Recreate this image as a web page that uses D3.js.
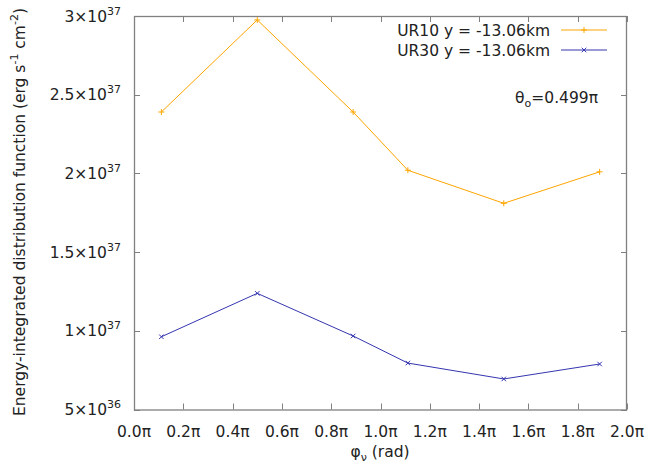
<!DOCTYPE html>
<html>
<head>
<meta charset="utf-8">
<script src="https://cdn.jsdelivr.net/npm/d3@7"></script>
<style>
  html, body { margin: 0; padding: 0; background: #fff; }
  svg { display: block; font-family: "DejaVu Sans", sans-serif; }
</style>
</head>
<body>
<svg id="chart" width="648" height="466"></svg>
<script>
// Azimuthal angle of the neutrino direction, in units of pi
const phiOverPi = [0.111, 0.5, 0.889, 1.111, 1.5, 1.889];
// Energy-integrated distribution function (erg s^-1 cm^-2)
const ur10 = [2.39e37, 2.975e37, 2.39e37, 2.02e37, 1.81e37, 2.01e37];
const ur30 = [0.962e37, 1.238e37, 0.967e37, 0.795e37, 0.694e37, 0.789e37];
const seriesNames = ["UR10 y = -13.06km", "UR30 y = -13.06km"];
const xTicks = [0, 0.2, 0.4, 0.6, 0.8, 1.0, 1.2, 1.4, 1.6, 1.8, 2.0];
const yTicks = [5e36, 1e37, 1.5e37, 2e37, 2.5e37, 3e37];
const yTickMantissa = ["5", "1", "1.5", "2", "2.5", "3"];
const yTickExponent = ["36", "37", "37", "37", "37", "37"];

const svg = d3.select("#chart");
const plotL = 134, plotR = 627, plotT = 16, plotB = 409.5;
const frameColor = "#808080";

const x = d3.scaleLinear().domain([0, 2]).range([plotL, plotR]);
const y = d3.scaleLinear().domain([5e36, 3e37]).range([plotB, plotT]);

// Ticks on all four sides, pointing inward
const tickLen = 6;
const g = svg.append("g").attr("stroke", frameColor).attr("stroke-width", 1);
xTicks.forEach(t => {
  const px = Math.round(x(t)) + 0.5;
  g.append("line").attr("x1", px).attr("x2", px).attr("y1", plotB).attr("y2", plotB - tickLen);
  g.append("line").attr("x1", px).attr("x2", px).attr("y1", plotT).attr("y2", plotT + tickLen);
});
yTicks.forEach(t => {
  const py = Math.round(y(t)) + 0.5;
  g.append("line").attr("x1", plotL).attr("x2", plotL + tickLen).attr("y1", py).attr("y2", py);
  g.append("line").attr("x1", plotR).attr("x2", plotR - tickLen).attr("y1", py).attr("y2", py);
});
svg.append("rect")
  .attr("x", plotL + 0.5).attr("y", plotT + 0.5)
  .attr("width", plotR - plotL - 1).attr("height", plotB - plotT)
  .attr("fill", "none").attr("stroke", frameColor).attr("stroke-width", 1.3);

// Tick labels
const fs = 15.5, ss = 11;
svg.append("g").selectAll("text").data(xTicks).join("text")
  .attr("x", d => x(d)).attr("y", plotB + 27)
  .attr("text-anchor", "middle").attr("font-size", fs).attr("fill", "#222")
  .text(d => d.toFixed(1) + "π");

const yl = svg.append("g").selectAll("text").data(yTicks).join("text")
  .attr("x", 121).attr("y", d => y(d) + 5.5)
  .attr("text-anchor", "end").attr("font-size", fs).attr("fill", "#222");
yl.append("tspan").text((d, i) => yTickMantissa[i] + "×10");
yl.append("tspan").attr("dy", -7).attr("font-size", ss).text((d, i) => yTickExponent[i]);

// Axis titles
const xt = svg.append("text").attr("x", 380).attr("y", 457)
  .attr("text-anchor", "middle").attr("font-size", fs).attr("fill", "#222");
xt.append("tspan").text("φ");
xt.append("tspan").attr("dy", 3.5).attr("font-size", ss).text("ν");
xt.append("tspan").attr("dy", -3.5).text(" (rad)");

const ytl = svg.append("text")
  .attr("transform", "translate(25,212) rotate(-90)")
  .attr("text-anchor", "middle").attr("font-size", fs).attr("fill", "#222");
ytl.append("tspan").text("Energy-integrated distribution function (erg s");
ytl.append("tspan").attr("dy", -7).attr("font-size", ss).text("-1");
ytl.append("tspan").attr("dy", 7).text(" cm");
ytl.append("tspan").attr("dy", -7).attr("font-size", ss).text("-2");
ytl.append("tspan").attr("dy", 7).text(")");

// Series
const colors = ["#ffa500", "#3535b0"];
const line = d3.line().x((d, i) => x(phiOverPi[i])).y(d => y(d));
const markSize = 3;
function plus(sel, cx, cy, c) {
  sel.append("path").attr("d", `M${cx - markSize},${cy}H${cx + markSize}M${cx},${cy - markSize}V${cy + markSize}`)
    .attr("stroke", c).attr("stroke-width", 1).attr("fill", "none");
}
function cross(sel, cx, cy, c) {
  const s = markSize * 0.75;
  sel.append("path").attr("d", `M${cx - s},${cy - s}L${cx + s},${cy + s}M${cx - s},${cy + s}L${cx + s},${cy - s}`)
    .attr("stroke", c).attr("stroke-width", 1).attr("fill", "none");
}
const markers = [plus, cross];
[ur10, ur30].forEach((vals, k) => {
  svg.append("path").datum(vals).attr("d", line)
    .attr("fill", "none").attr("stroke", colors[k]).attr("stroke-width", 1);
  const mg = svg.append("g");
  vals.forEach((v, i) => markers[k](mg, x(phiOverPi[i]), y(v), colors[k]));
});

// Legend
seriesNames.forEach((name, k) => {
  const ly = 30 + k * 20;
  svg.append("text").attr("x", 550).attr("y", ly + 5.5)
    .attr("text-anchor", "end").attr("font-size", fs).attr("fill", "#222").text(name);
  svg.append("line").attr("x1", 561).attr("x2", 607).attr("y1", ly).attr("y2", ly)
    .attr("stroke", colors[k]).attr("stroke-width", 1);
  markers[k](svg, 584, ly, colors[k]);
});

// Observer polar angle annotation
const th = svg.append("text").attr("x", 598).attr("y", 103)
  .attr("text-anchor", "end").attr("font-size", fs).attr("fill", "#222");
th.append("tspan").text("θ");
th.append("tspan").attr("dy", 4).attr("font-size", ss).text("o");
th.append("tspan").attr("dy", -4).text("=0.499π");
</script>
</body>
</html>
